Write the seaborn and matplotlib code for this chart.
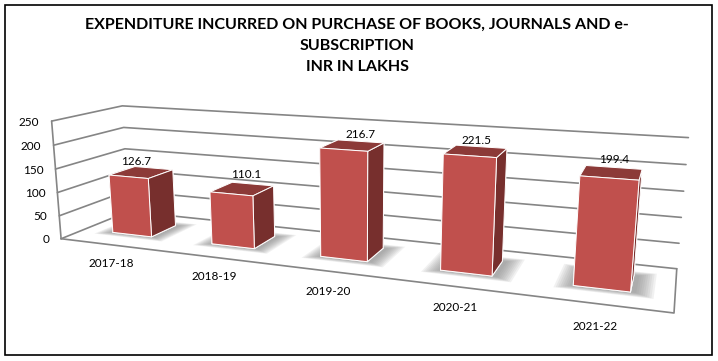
import seaborn as sns
from matplotlib import pyplot as plt
from matplotlib.patches import Rectangle
from mpl_toolkits.mplot3d import proj3d
from mpl_toolkits.mplot3d.art3d import Poly3DCollection

years = ['2017-18', '2018-19', '2019-20', '2020-21', '2021-22']
spend = [126.7, 110.1, 216.7, 221.5, 199.4]
z_ticks = [0, 50, 100, 150, 200, 250]
title = 'EXPENDITURE INCURRED ON PURCHASE OF BOOKS, JOURNALS AND e-\nSUBSCRIPTION\nINR IN LAKHS'

sns.set_theme(style='white', font='Lato')

FRONT = '#C0504D'
TOP = '#8C3A38'
SIDE = '#772F2D'
GRID = '#858585'

# camera fitted to the corners of the reference chart
W, H = 718, 361
cx, cy = 337.97, 205.43
width, y0, y1 = 0.4007, 0.3258, 0.7148
label_shift = [-0.18, -0.06, 0, -0.04, 0]
label_lift = [11, 19, 13, 11, 14]

fig = plt.figure(figsize=(W / 100, H / 100), dpi=100)
ax = fig.add_subplot(projection='3d', computed_zorder=False)
ax.set_position([(cx - 500) / W, (H - cy - 500) / H, 1000 / W, 1000 / H])
ax.set_proj_type('persp', focal_length=0.1628)
ax.view_init(elev=13.3652, azim=-69.2148, roll=0.0559)
ax.set_box_aspect((1, 0.2004, 0.2055), zoom=0.6264)
ax.set_xlim(0, len(years))
ax.set_ylim(0, 1)
ax.set_zlim(0, z_ticks[-1])
ax.set_axis_off()
ax.apply_aspect()


def label(x, y, z, s, **kw):
    # project to the screen plane so the text sits in plain 2D axes coordinates
    px, py, _ = proj3d.proj_transform(x, y, z, ax.get_proj())
    ax.text2D(px, py, s, transform=ax.transData, va='center', fontsize=8.5,
              color='black', zorder=20, **kw)


# walls and floor
line = dict(color=GRID, linewidth=1.2, zorder=1)
n = len(years)
for t in z_ticks:
    ax.plot([0, 0, n], [0, 1, 1], [t, t, t], **line)
    label(-0.13, 0, t - 5, str(t), ha='right')
ax.plot([0, 0], [0, 0], [0, z_ticks[-1]], **line)
ax.plot([0, n, n], [0, 0, 1], [0, 0, 0], **line)

for i, (year, v) in enumerate(zip(years, spend)):
    c = i + 0.5
    xl, xr = c - width / 2, c + width / 2

    # soft shadow on the floor
    for k in [0.13, 0.115, 0.10, 0.085, 0.07, 0.055, 0.04, 0.025, 0.01]:
        front, back = k * 0.7, k * 0.8
        poly = [(xl - k, y0 - front, 0), (xr + k + 0.03, y0 - front, 0),
                (xr + k + 0.03, y1 + back, 0), (xl - k, y1 + back, 0)]
        ax.add_collection3d(Poly3DCollection([poly], facecolor='#7F7F7F', edgecolor='none', alpha=0.1, zorder=2))

    ax.bar3d(xl, y0, 0, width, y1 - y0, v, color=[FRONT, TOP, FRONT, FRONT, SIDE, SIDE],
             shade=False, edgecolor='white', linewidth=0.7, zorder=5 + i)
    label(c + label_shift[i], y1, v + label_lift[i], str(v), ha='center')
    label(c, 0, -40, year, ha='center')

fig.text(357 / W, 1 - 18 / H, title, ha='center', va='top', fontsize=11.5, fontweight='bold',
         color='black', linespacing=1.63)
fig.add_artist(Rectangle((5 / W, 1 - 355 / H), 707 / W, 350 / H, transform=fig.transFigure,
                         fill=False, edgecolor='black', linewidth=1.2))

fig.savefig('out.png', dpi=100)
